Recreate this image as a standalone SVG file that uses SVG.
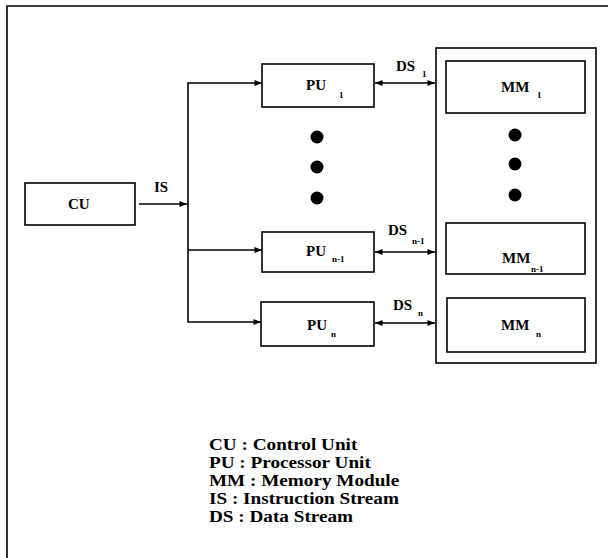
<svg xmlns="http://www.w3.org/2000/svg" width="608" height="558" viewBox="0 0 608 558">
<defs>
<marker id="ah" viewBox="0 0 10 8" refX="10" refY="4" markerWidth="8" markerHeight="6" markerUnits="userSpaceOnUse" orient="auto-start-reverse">
<path d="M0,0 L10,4 L0,8 z" fill="#000"/>
</marker>
<style>
.box{fill:#fff;stroke:#000;stroke-width:1.6}
.ln{fill:none;stroke:#000;stroke-width:1.6}
.lab{font-family:"Liberation Serif","Times New Roman",serif;font-weight:bold;font-size:15px;fill:#000}
.sub{font-size:9px}
.leg{font-family:"Liberation Serif","Times New Roman",serif;font-weight:bold;font-size:16px;fill:#000}
.dot{fill:#000}
</style>
</defs>
<rect width="608" height="558" fill="#fff"/>
<g id="frame">
<polyline class="ln" points="7,558 7,6 608,6" stroke-width="2"/>
</g>
<g id="connectors">
<line class="ln" x1="139" y1="204" x2="187" y2="204" marker-end="url(#ah)"/>
<polyline class="ln" points="262,83 188,83 188,322 261,322" marker-start="url(#ah)" marker-end="url(#ah)"/>
<line class="ln" x1="188" y1="250" x2="262" y2="250" marker-end="url(#ah)"/>
<line class="ln" x1="375" y1="83" x2="435" y2="83" marker-start="url(#ah)" marker-end="url(#ah)"/>
<line class="ln" x1="375" y1="252" x2="435" y2="252" marker-start="url(#ah)" marker-end="url(#ah)"/>
<line class="ln" x1="375" y1="323" x2="435" y2="323" marker-start="url(#ah)" marker-end="url(#ah)"/>
<text class="lab" x="154" y="192">IS</text>
<text class="lab" x="396" y="71">DS<tspan class="sub" x="422" y="77">1</tspan></text>
<text class="lab" x="388" y="235">DS<tspan class="sub" x="412" y="244">n-1</tspan></text>
<text class="lab" x="393" y="310">DS<tspan class="sub" x="418" y="316">n</tspan></text>
</g>
<g id="cu">
<rect class="box" x="25" y="183" width="110" height="42"/>
<text class="lab" x="68" y="209">CU</text>
</g>
<g id="pu1">
<rect class="box" x="262" y="64" width="112" height="43"/>
<text class="lab" x="306" y="90">PU<tspan class="sub" x="339" y="98">1</tspan></text>
</g>
<g id="pu-dots">
<circle class="dot" cx="317" cy="137" r="6.5"/>
<circle class="dot" cx="317" cy="167" r="6.5"/>
<circle class="dot" cx="317" cy="198" r="6.5"/>
</g>
<g id="pun1">
<rect class="box" x="262" y="232" width="112" height="40"/>
<text class="lab" x="306" y="256">PU<tspan class="sub" x="332" y="262">n-1</tspan></text>
</g>
<g id="pun">
<rect class="box" x="261" y="302" width="113" height="44"/>
<text class="lab" x="307" y="330">PU<tspan class="sub" x="331" y="337">n</tspan></text>
</g>
<g id="memory">
<rect class="box" x="436" y="48" width="160" height="315" stroke-width="2"/>
<g id="mm1">
<rect class="box" x="446" y="61" width="139" height="52"/>
<text class="lab" x="501" y="92">MM<tspan class="sub" x="537" y="98">1</tspan></text>
</g>
<g id="mm-dots">
<circle class="dot" cx="515" cy="135" r="6.5"/>
<circle class="dot" cx="515" cy="164" r="6.5"/>
<circle class="dot" cx="515" cy="195" r="6.5"/>
</g>
<g id="mmn1">
<rect class="box" x="446" y="223" width="139" height="51"/>
<text class="lab" x="502" y="263">MM<tspan class="sub" x="531" y="272">n-1</tspan></text>
</g>
<g id="mmn">
<rect class="box" x="447" y="298" width="138" height="54"/>
<text class="lab" x="501" y="330">MM<tspan class="sub" x="536" y="337">n</tspan></text>
</g>
</g>
<g id="legend" transform="translate(209,0) scale(1.2,1)">
<text class="leg" x="0" y="450">CU : Control Unit</text>
<text class="leg" x="0" y="468">PU : Processor Unit</text>
<text class="leg" x="0" y="486">MM : Memory Module</text>
<text class="leg" x="0" y="504">IS : Instruction Stream</text>
<text class="leg" x="0" y="522">DS : Data Stream</text>
</g>
</svg>
